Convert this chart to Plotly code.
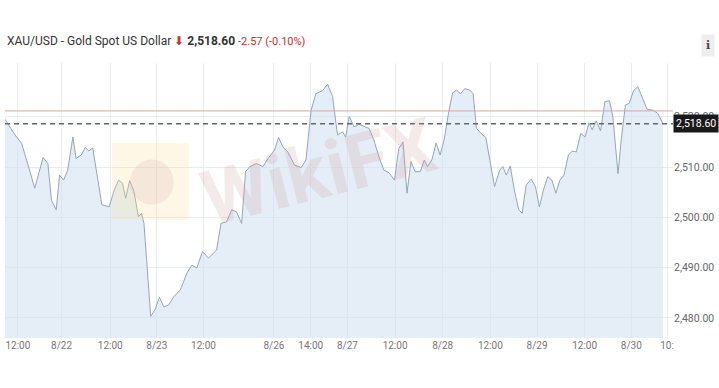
import plotly.graph_objects as go

# trading-time index (hours of session time) and price
t = [0, 0.4, 1.25, 2.5, 4.2, 5.4, 7.5, 9.6, 10.8, 11.7, 12.9, 13.75, 14.75, 15.8, 17.1, 17.9, 19.2,
     20.25, 21.1, 22.1, 23.3, 24.4, 26.25, 27.5, 28.6, 29.6, 30.4, 31.4, 32.5, 33.6, 34.4, 35,
     36.7, 37.75, 38.9, 40, 41.25, 42.5, 44.2, 45.8, 47.1, 48.3, 49.75, 51.25, 53.3, 54.4, 55.8,
     57.1, 58.3, 59.6, 60.6, 61.7, 63.3, 65, 66.25, 67.9, 68.9, 70, 71.25, 72.9, 74.6, 75.8,
     77.1, 78.3, 80, 81.25, 82.5, 83.75, 85, 85.8, 86.7, 87.9, 89.2, 90.4, 91.7, 92.9, 94.2,
     95.4, 96.7, 98.1, 99.2, 100.25, 101.25, 102.25, 103.3, 104.6, 105.6, 106.4, 107.5, 108.6,
     109.6, 110.6, 111.7, 112.75, 113.75, 114.75, 115.8, 117.1, 117.9, 118.75, 120, 121.1,
     122.1, 123.3, 124.6, 125.4, 126.25, 127.25, 128.3, 129.4, 130.25, 131.25, 132.5, 133.6,
     134.6, 135.6, 136.7, 137.75, 138.75, 139.75, 140.8, 141.9, 142.9, 143.9, 145, 146.1,
     147.1, 147.9, 148.9, 150, 151.1, 152.25, 153.1, 154.4, 155.25, 156.25, 157.25, 158.3,
     159.4, 160.4, 161.7, 163.3, 164.4, 165.75]
price = [2519.5, 2519.0, 2517.7, 2516.4, 2514.7, 2511.4, 2505.8, 2511.9, 2510.7, 2503.4, 2501.5,
         2508.4, 2507.4, 2509.4, 2516.0, 2511.7, 2512.4, 2513.9, 2513.2, 2513.8, 2507.8, 2502.5,
         2502.1, 2505.4, 2507.4, 2506.8, 2503.8, 2507.3, 2505.1, 2500.1, 2500.8, 2498.8, 2480.3,
         2481.6, 2484.1, 2482.2, 2482.6, 2484.2, 2485.6, 2488.9, 2490.5, 2489.9, 2493.2, 2491.9,
         2493.5, 2498.8, 2499.1, 2501.5, 2501.1, 2498.8, 2509.1, 2510.1, 2510.7, 2510.1, 2511.7,
         2513.4, 2515.9, 2514.0, 2513.0, 2510.4, 2509.9, 2511.4, 2521.3, 2524.6, 2525.2, 2526.5,
         2524.0, 2516.4, 2517.0, 2516.0, 2520.1, 2518.0, 2518.5, 2518.1, 2517.7, 2515.4, 2512.0,
         2509.4, 2508.9, 2507.4, 2513.7, 2515.0, 2504.8, 2511.1, 2509.1, 2509.1, 2511.4, 2510.1,
         2511.4, 2514.8, 2512.4, 2515.4, 2520.7, 2524.8, 2525.3, 2524.6, 2525.6, 2525.3, 2524.6,
         2517.7, 2516.6, 2515.9, 2511.4, 2506.1, 2509.4, 2510.1, 2508.4, 2510.2, 2505.4, 2501.5,
         2500.8, 2506.4, 2507.6, 2506.1, 2502.1, 2505.4, 2508.1, 2507.4, 2504.8, 2507.4, 2508.4,
         2512.4, 2513.2, 2513.0, 2516.7, 2516.0, 2518.8, 2517.4, 2519.2, 2517.2, 2523.0, 2523.2,
         2520.0, 2508.7, 2515.7, 2522.3, 2522.7, 2525.2, 2526.0, 2524.0, 2521.5, 2521.3, 2520.7,
         2518.6]

tick_t = [3.25, 14.25, 26.5, 38.25, 50, 67.75, 77, 86.25, 98.25, 110.25, 122.25, 134, 146, 157.75, 166.75]
tick_text = ["12:00", "8/22", "12:00", "8/23", "12:00", "8/26", "14:00", "8/27", "12:00", "8/28",
             "12:00", "8/29", "12:00", "8/30", "10:"]
y_ticks = [2480, 2490, 2500, 2510, 2520]

last_price = 2518.60
prev_close = 2521.17
change = "-2.57 (-0.10%)"
title = "XAU/USD - Gold Spot US Dollar"

FONT = "Roboto, Liberation Sans, Arial, sans-serif"

fig = go.Figure()
fig.add_trace(go.Scatter(
    x=t, y=price, mode="lines",
    line=dict(color="#93a6b9", width=1),
    fill="tozeroy", fillcolor="rgba(212,227,242,0.6)",
    hoverinfo="skip", showlegend=False,
))

# previous close line
fig.add_shape(type="line", xref="paper", x0=0, x1=1, yref="y", y0=prev_close, y1=prev_close,
              line=dict(color="#d6a8a0", width=1), layer="above")
# last price dashed line
fig.add_shape(type="line", xref="paper", x0=0, x1=1, yref="y", y0=last_price, y1=last_price,
              line=dict(color="#666666", width=1.5, dash="5px,4px"), layer="above")

# watermark (logo square + emblem + text)
fig.add_shape(type="rect", xref="x", yref="y", x0=27, x1=46.25, y0=2499.5, y1=2514.8,
              fillcolor="rgba(250,222,150,0.25)", line=dict(width=0), layer="above")
fig.add_shape(type="circle", xref="x", yref="y", x0=31.5, x1=42.5, y0=2502.5, y1=2511.5,
              fillcolor="rgba(205,165,170,0.18)", line=dict(width=0), layer="above")
fig.add_annotation(x=0.47, y=0.875, xref="paper", yref="paper", text="<b>WikiFX</b>",
                   showarrow=False, textangle=-14,
                   font=dict(family=FONT, size=76, color="rgba(205,160,160,0.22)"))

# last price label
fig.add_annotation(xref="paper", x=1, xanchor="left", y=last_price, yref="y",
                   text=f"{last_price:,.2f}", showarrow=False, bgcolor="#1a1a1a",
                   font=dict(family=FONT, size=10.5, color="white"), borderpad=2)

# title
fig.add_annotation(xref="paper", x=0, xanchor="left", yref="paper", y=1.08, yanchor="middle",
                   showarrow=False, align="left",
                   text=(f"{title} <span style='color:#c9302c'>⬇</span> "
                         f"<b>{last_price:,.2f}</b> <span style='color:#c9302c;font-size:11px'>{change}</span>"),
                   font=dict(family=FONT, size=12, color="#333333"))

# info icon
fig.add_annotation(xref="paper", yref="paper", x=1.046, y=1.076, text="<b>i</b>", showarrow=False,
                   bgcolor="#eeeeee", borderpad=4, xshift=11, yshift=8,
                   font=dict(family="DejaVu Serif, serif", size=11, color="#444444"))

fig.update_layout(
    width=719, height=388,
    margin=dict(l=5, r=41, t=63, b=50),
    paper_bgcolor="white", plot_bgcolor="white",
    font=dict(family=FONT, size=10, color="#666666"),
    xaxis=dict(range=[0, 168.25], tickmode="array", tickvals=tick_t, ticktext=tick_text,
               showgrid=True, gridcolor="rgba(228,234,241,0.9)", gridwidth=1,
               zeroline=False, showline=False, ticks="", tickfont=dict(size=10, color="#777777")),
    yaxis=dict(range=[2476, 2530.7], side="right", tickmode="array", tickvals=y_ticks,
               tickformat=",.2f", showgrid=True, gridcolor="rgba(228,234,241,0.9)",
               zeroline=False, showline=False, ticks="", tickfont=dict(size=10.5, color="#666666")),
)

fig.write_html("out.html")
